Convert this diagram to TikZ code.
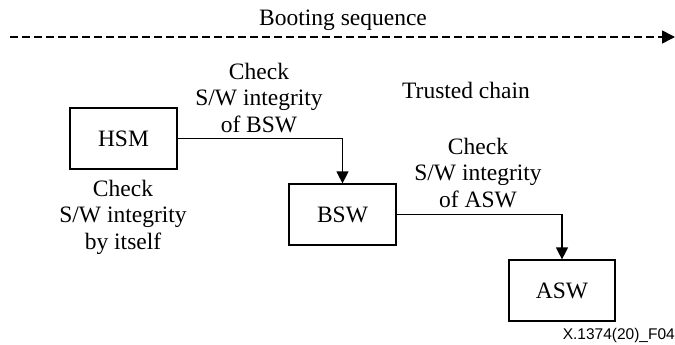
\documentclass[tikz,border=0pt]{standalone}
\usepackage{fontspec}
\setmainfont{Liberation Serif}
\newfontfamily\figsans{Liberation Sans}
\usetikzlibrary{arrows.meta}

\tikzset{
  block/.style={draw, line width=1.2pt, minimum width=107pt, minimum height=61pt,
                inner sep=0pt, font=\fontsize{23.5}{26.5}\selectfont},
  label/.style={align=center, inner sep=0pt, font=\fontsize{23.5}{26.5}\selectfont},
  flow/.style={line width=1.2pt, -{Triangle[length=12pt,width=12pt]}},
  seqline/.style={line width=1.6pt, dash pattern=on 8pt off 4pt,
                  -{Triangle[length=13pt,width=13pt]}}
}

\begin{document}
\begin{tikzpicture}[x=1pt, y=-1pt]
  \useasboundingbox (0,0) rectangle (675,345);

  % boot order indicator
  \coordinate (seqstart) at (10,37);
  \coordinate (seqend) at (675,37);
  \draw[seqline] (seqstart) -- (seqend);
  \node[label] (seqtext) at (343,20) {Booting sequence};

  % components of the chain
  \node[block] (hsm) at (123.5,138.5) {HSM};
  \node[block] (bsw) at (342.5,214.5) {BSW};
  \node[block, minimum width=106pt] (asw) at (562,290.5) {ASW};

  % verification steps
  \draw[flow] (hsm.east) -| (bsw.north);
  \draw[flow] (bsw.east) -| (asw.north);

  \node[label] (chkbsw) at (259,98) {Check\\S/W integrity\\of BSW};
  \node[label] (chkself) at (123,217) {Check\\S/W integrity\\by itself};
  \node[label] (chkasw) at (478,173) {Check\\S/W integrity\\of ASW};
  \node[label] (chain) at (466,90) {Trusted chain};

  \node[anchor=east, inner sep=0pt, font=\figsans\fontsize{15.5}{18}\selectfont]
    (figid) at (675,335) {X.1374(20)\_F04};
\end{tikzpicture}
\end{document}
